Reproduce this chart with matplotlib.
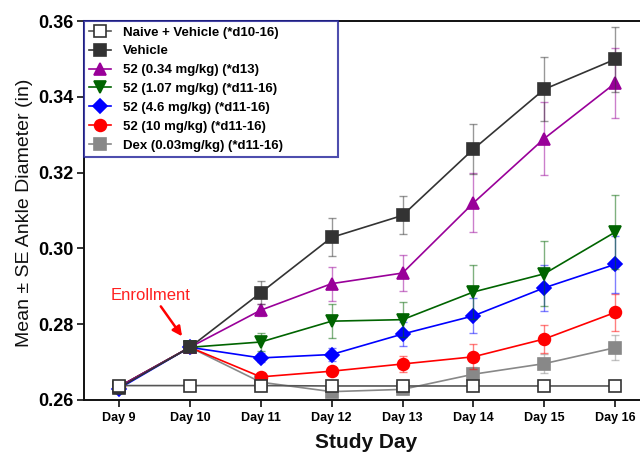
import matplotlib
matplotlib.use("Agg")
import matplotlib.pyplot as plt

days = [9, 10, 11, 12, 13, 14, 15, 16]
day_labels = ["Day 9", "Day 10", "Day 11", "Day 12", "Day 13", "Day 14", "Day 15", "Day 16"]

naive = [0.2638, 0.2638, 0.2638, 0.2637, 0.2637, 0.2637, 0.2637, 0.2637]
naive_err = [0.0004, 0.0004, 0.0004, 0.0004, 0.0004, 0.0004, 0.0004, 0.0004]

vehicle = [0.2632, 0.2739, 0.2883, 0.3029, 0.3087, 0.3262, 0.3420, 0.3499]
vehicle_err = [0.0005, 0.0008, 0.0030, 0.0050, 0.0050, 0.0066, 0.0085, 0.0085]

d034 = [0.2635, 0.2739, 0.2837, 0.2907, 0.2935, 0.3120, 0.3290, 0.3436]
d034_err = [0.0005, 0.0008, 0.0016, 0.0045, 0.0048, 0.0078, 0.0097, 0.0092]

d107 = [0.2635, 0.2739, 0.2753, 0.2808, 0.2812, 0.2885, 0.2933, 0.3043]
d107_err = [0.0005, 0.0008, 0.0025, 0.0045, 0.0046, 0.0070, 0.0086, 0.0097]

d46 = [0.2630, 0.2739, 0.2711, 0.2720, 0.2774, 0.2822, 0.2896, 0.2958]
d46_err = [0.0005, 0.0008, 0.0012, 0.0018, 0.0032, 0.0046, 0.0060, 0.0075]

d10 = [0.2635, 0.2739, 0.2661, 0.2676, 0.2695, 0.2714, 0.2761, 0.2831]
d10_err = [0.0005, 0.0008, 0.0010, 0.0010, 0.0022, 0.0033, 0.0038, 0.0050]

dex = [0.2635, 0.2739, 0.2647, 0.2622, 0.2628, 0.2668, 0.2696, 0.2738]
dex_err = [0.0005, 0.0008, 0.0008, 0.0008, 0.0010, 0.0018, 0.0025, 0.0033]

labels = ["Naive + Vehicle (*d10-16)", "Vehicle", "52 (0.34 mg/kg) (*d13)",
          "52 (1.07 mg/kg) (*d11-16)", "52 (4.6 mg/kg) (*d11-16)",
          "52 (10 mg/kg) (*d11-16)", "Dex (0.03mg/kg) (*d11-16)"]

series = [
    (naive, naive_err, "s", "white", "#333333", "#555555", 8.5, 7),
    (vehicle, vehicle_err, "s", "#333333", "#333333", "#333333", 8.5, 6),
    (d034, d034_err, "^", "#990099", "#990099", "#990099", 9, 5),
    (d107, d107_err, "v", "#006400", "#006400", "#006400", 9, 4),
    (d46, d46_err, "D", "#0000ff", "#0000ff", "#0000ff", 7, 3),
    (d10, d10_err, "o", "#ff0000", "#ff0000", "#ff0000", 8.5, 2),
    (dex, dex_err, "s", "#888888", "#888888", "#888888", 8.5, 1),
]

fig = plt.figure(figsize=(6.4, 4.55), dpi=100)
ax = fig.add_axes([0.1305, 0.1209, 0.8695, 0.8329])

handles = []
for (vals, err, mk, fc, ec, lc, ms, z), lab in zip(series, labels):
    ax.errorbar(days, vals, yerr=err, fmt="none", ecolor=lc, elinewidth=1.0,
                capsize=3, capthick=1.0, alpha=0.5, zorder=z)
    h, = ax.plot(days, vals, marker=mk, markerfacecolor=fc, markeredgecolor=ec,
                 color=lc, lw=1.2, ms=ms, mew=1.2, zorder=z + 0.5, label=lab)
    handles.append(h)

ax.set_xlim(8.5, 16.35)
ax.set_ylim(0.26, 0.36)
ax.set_xticks(days)
ax.set_xticklabels(day_labels, fontsize=9, fontweight="bold", family="Liberation Sans")
ax.set_yticks([0.26, 0.28, 0.30, 0.32, 0.34, 0.36])
ax.set_yticklabels(["0.26", "0.28", "0.30", "0.32", "0.34", "0.36"],
                   fontsize=13, fontweight="bold", family="Liberation Sans")
ax.tick_params(axis="both", direction="out", length=5, width=1.3, color="#222222")
ax.tick_params(axis="x", pad=4)
ax.tick_params(axis="y", pad=2)

for s in ["left", "bottom", "top"]:
    ax.spines[s].set_linewidth(1.4)
    ax.spines[s].set_color("#111111")
ax.spines["right"].set_visible(False)

fig.text(25 / 640, 1 - 213 / 455, "Mean \u00b1 SE Ankle Diameter (in)", rotation=90,
         fontsize=14, family="Liberation Sans", ha="center", va="center", color="#111111")
fig.text(366 / 640, 1 - 443 / 455, "Study Day", fontsize=15, fontweight="bold",
         family="Liberation Sans", ha="center", va="center", color="#111111")

ax.text(9.44, 0.2876, "Enrollment", fontsize=12, color="#ff2020", ha="center",
        va="center", family="Liberation Sans")
ax.annotate("", xy=(9.89, 0.2768), xytext=(9.59, 0.2847),
            arrowprops=dict(arrowstyle="-|>", color="#ff0000", lw=1.8, mutation_scale=14,
                            shrinkA=0, shrinkB=0))

leg = ax.legend(handles=handles, loc="upper left", bbox_to_anchor=(0.0, 0.0, 0.457, 1.0),
                mode="expand", borderaxespad=0.0, frameon=True, fancybox=False,
                prop={"family": "Liberation Sans", "weight": "bold", "size": 9.5},
                handlelength=1.7, handletextpad=0.9, labelspacing=0.5,
                borderpad=0.4)
leg.get_frame().set_edgecolor("#22229a")
leg.get_frame().set_linewidth(1.5)
leg.set_zorder(20)

fig.savefig("out.png", dpi=100)
